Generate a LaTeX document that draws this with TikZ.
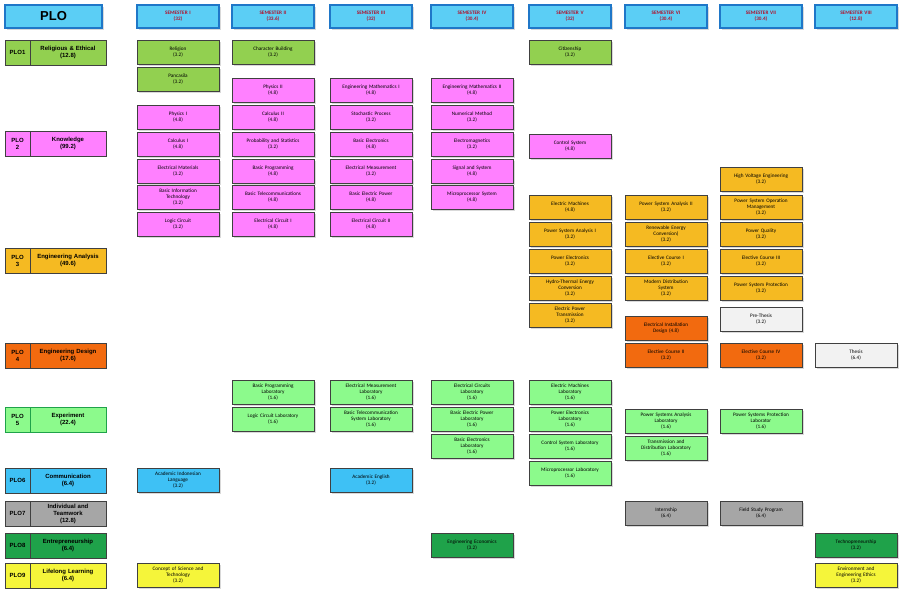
\documentclass[tikz,border=0pt]{standalone}
\usepackage{fontspec}
\setmainfont{Carlito}
\newfontfamily\arl{Liberation Sans}
\usetikzlibrary{shadows}
\definecolor{cgr}{HTML}{92D050}
\definecolor{cmg}{HTML}{FF80FF}
\definecolor{cgo}{HTML}{F5BA22}
\definecolor{cor}{HTML}{F26A0F}
\definecolor{cwh}{HTML}{F2F2F2}
\definecolor{clg}{HTML}{8CFA8C}
\definecolor{cbl}{HTML}{3EC1F5}
\definecolor{cgy}{HTML}{A6A6A6}
\definecolor{cdg}{HTML}{1FA24A}
\definecolor{cye}{HTML}{F5F53A}
\definecolor{hbl}{HTML}{5BCEF5}
\definecolor{hbd}{HTML}{1F77C8}
\definecolor{hrd}{HTML}{B0102B}
\tikzset{
 crs/.style={draw=black!75,line width=1pt,minimum width=82pt,minimum height=24pt,text width=80pt,align=center,inner sep=0pt,font=\fontsize{5.2}{6}\selectfont,drop shadow={shadow xshift=1.5pt,shadow yshift=-1.5pt,opacity=0.3}},
 hdr/.style={draw=hbd,line width=1.2pt,fill=hbl,minimum width=82pt,minimum height=23pt,text width=80pt,align=center,inner sep=0pt,font=\fontsize{5.2}{6}\selectfont\bfseries,text=hrd,drop shadow={shadow xshift=1.5pt,shadow yshift=-1.5pt,opacity=0.3}},
 ploa/.style={draw=black!75,line width=1pt,minimum width=25pt,minimum height=25pt,text width=24pt,align=center,inner sep=0pt,font=\fontsize{6}{7}\selectfont\arl\bfseries},
 plob/.style={draw=black!75,line width=1pt,minimum width=76pt,minimum height=25pt,text width=74pt,align=center,inner sep=0pt,font=\fontsize{6}{7}\selectfont\arl\bfseries},
}
\newcommand{\CR}[5]{\node[crs,fill=#4] (#1) at (#2,#3+12) {#5};}
\newcommand{\PLA}[5]{\node[ploa,fill=#3,#4] (#1a) at (17.5,#2+12.5) {#5};}
\newcommand{\PLB}[5]{\node[plob,fill=#3,#4] (#1b) at (68,#2+12.5) {#5};}
\begin{document}
\begin{tikzpicture}[x=1pt,y=-1pt]
\useasboundingbox (0,0) rectangle (906,600);
% headers
\node[hdr,minimum width=97pt,text width=95pt,text=black,font=\fontsize{13}{14}\selectfont\arl\bfseries] (plo) at (53.5,16.5) {PLO};
\node[hdr] (s1) at (178,16.5) {SEMESTER I\\(32)};
\node[hdr] (s2) at (273,16.5) {SEMESTER II\\(33.6)};
\node[hdr] (s3) at (371,16.5) {SEMESTER III\\(32)};
\node[hdr] (s4) at (472,16.5) {SEMESTER IV\\(30.4)};
\node[hdr] (s5) at (570,16.5) {SEMESTER V\\(32)};
\node[hdr] (s6) at (666,16.5) {SEMESTER VI\\(30.4)};
\node[hdr] (s7) at (761,16.5) {SEMESTER VII\\(30.4)};
\node[hdr] (s8) at (856,16.5) {SEMESTER VIII\\(12.8)};
% PLO column
\PLA{p1}{40}{cgr}{}{PLO1} \PLB{p1}{40}{cgr}{}{Religious \& Ethical\\(12.8)}
\PLA{p2}{131}{cmg}{}{PLO\\2} \PLB{p2}{131}{cmg}{}{Knowledge\\(99.2)}
\PLA{p3}{248}{cgo}{}{PLO\\3} \PLB{p3}{248}{cgo}{}{Engineering Analysis\\(49.6)}
\PLA{p4}{343}{cor}{}{PLO\\4} \PLB{p4}{343}{cor}{}{Engineering Design\\(17.6)}
\PLA{p5}{407}{clg}{draw=cdg}{PLO\\5} \PLB{p5}{407}{clg}{draw=cdg}{Experiment\\(22.4)}
\PLA{p6}{468}{cbl}{}{PLO6} \PLB{p6}{468}{cbl}{}{Communication\\(6.4)}
\PLA{p7}{501}{cgy}{}{PLO7} \PLB{p7}{501}{cgy}{}{Individual and\\Teamwork\\(12.8)}
\PLA{p8}{533}{cdg}{}{PLO8} \PLB{p8}{533}{cdg}{}{Entrepreneurship\\(6.4)}
\PLA{p9}{563}{cye}{}{PLO9} \PLB{p9}{563}{cye}{}{Lifelong Learning\\(6.4)}
% Semester I
\CR{rel}{178}{40}{cgr}{Religion\\(3.2)}
\CR{pan}{178}{67}{cgr}{Pancasila\\(3.2)}
\CR{phy1}{178}{105}{cmg}{Physics I\\(4.8)}
\CR{cal1}{178}{132}{cmg}{Calculus I\\(4.8)}
\CR{emat}{178}{159}{cmg}{Electrical Materials\\(3.2)}
\CR{bit}{178}{185}{cmg}{Basic Information\\Technology\\(3.2)}
\CR{lc}{178}{212}{cmg}{Logic Circuit\\(3.2)}
\CR{ail}{178}{468}{cbl}{Academic Indonesian\\Language\\(3.2)}
\CR{cst}{178}{563}{cye}{Concept of Science and\\Technology\\(3.2)}
% Semester II
\CR{cb}{273}{40}{cgr}{Character Building\\(3.2)}
\CR{phy2}{273}{78}{cmg}{Physics II\\(4.8)}
\CR{cal2}{273}{105}{cmg}{Calculus II\\(4.8)}
\CR{ps}{273}{132}{cmg}{Probability and Statistics\\(3.2)}
\CR{bp}{273}{159}{cmg}{Basic Programming\\(4.8)}
\CR{btc}{273}{185}{cmg}{Basic Telecommunications\\(4.8)}
\CR{ec1}{273}{212}{cmg}{Electrical Circuit I\\(4.8)}
\CR{bpl}{273}{380}{clg}{Basic Programming\\Laboratory\\(1.6)}
\CR{lcl}{273}{407}{clg}{Logic Circuit Laboratory\\(1.6)}
% Semester III
\CR{em1}{371}{78}{cmg}{Engineering Mathematics I\\(4.8)}
\CR{sp}{371}{105}{cmg}{Stochastic Process\\(3.2)}
\CR{be}{371}{132}{cmg}{Basic Electronics\\(4.8)}
\CR{emea}{371}{159}{cmg}{Electrical Measurement\\(3.2)}
\CR{bep}{371}{185}{cmg}{Basic Electric Power\\(4.8)}
\CR{ec2}{371}{212}{cmg}{Electrical Circuit II\\(4.8)}
\CR{eml}{371}{380}{clg}{Electrical Measurement\\Laboratory\\(1.6)}
\CR{btsl}{371}{407}{clg}{Basic Telecommunication\\System Laboratory\\(1.6)}
\CR{ae}{371}{468}{cbl}{Academic English\\(3.2)}
% Semester IV
\CR{em2}{472}{78}{cmg}{Engineering Mathematics II\\(4.8)}
\CR{nm}{472}{105}{cmg}{Numerical Method\\(3.2)}
\CR{emg}{472}{132}{cmg}{Electromagnetics\\(3.2)}
\CR{ss}{472}{159}{cmg}{Signal and System\\(4.8)}
\CR{mps}{472}{185}{cmg}{Microprocessor System\\(4.8)}
\CR{ecl}{472}{380}{clg}{Electrical Circuits\\Laboratory\\(1.6)}
\CR{bepl}{472}{407}{clg}{Basic Electric Power\\Laboratory\\(1.6)}
\CR{bel}{472}{434}{clg}{Basic Electronics\\Laboratory\\(1.6)}
\CR{eeco}{472}{533}{cdg}{Engineering Economics\\(3.2)}
% Semester V
\CR{cit}{570}{40}{cgr}{Citizenship\\(3.2)}
\CR{cs}{570}{134}{cmg}{Control System\\(4.8)}
\CR{emach}{570}{195}{cgo}{Electric Machines\\(4.8)}
\CR{psa1}{570}{222}{cgo}{Power System Analysis I\\(3.2)}
\CR{pe}{570}{249}{cgo}{Power Electronics\\(3.2)}
\CR{htec}{570}{276}{cgo}{Hydro-Thermal Energy\\Conversion\\(3.2)}
\CR{ept}{570}{303}{cgo}{Electric Power\\Transmission\\(3.2)}
\CR{emachl}{570}{380}{clg}{Electric Machines\\Laboratory\\(1.6)}
\CR{pel}{570}{407}{clg}{Power Electronics\\Laboratory\\(1.6)}
\CR{csl}{570}{434}{clg}{Control System Laboratory\\(1.6)}
\CR{mpl}{570}{461}{clg}{Microprocessor Laboratory\\(1.6)}
% Semester VI
\CR{psa2}{666}{195}{cgo}{Power System Analysis II\\(3.2)}
\CR{rec}{666}{222}{cgo}{Renewable Energy\\Conversion)\\(3.2)}
\CR{el1}{666}{249}{cgo}{Elective Course I\\(3.2)}
\CR{mds}{666}{276}{cgo}{Modern Distribution\\System\\(3.2)}
\CR{eid}{666}{316}{cor}{Electrical Installation\\Design (4.8)}
\CR{el2}{666}{343}{cor}{Elective Course II\\(3.2)}
\CR{psal}{666}{409}{clg}{Power Systems Analysis\\Laboratory\\(1.6)}
\CR{tdl}{666}{436}{clg}{Transmission and\\Distribution Laboratory\\(1.6)}
\CR{intern}{666}{501}{cgy}{Internship\\(6.4)}
% Semester VII
\CR{hve}{761}{167}{cgo}{High Voltage Engineering\\(3.2)}
\CR{psom}{761}{195}{cgo}{Power System Operation\\Management\\(3.2)}
\CR{pq}{761}{222}{cgo}{Power Quality\\(3.2)}
\CR{el3}{761}{249}{cgo}{Elective Course III\\(3.2)}
\CR{psp}{761}{276}{cgo}{Power System Protection\\(3.2)}
\CR{pth}{761}{307}{cwh}{Pre-Thesis\\(3.2)}
\CR{el4}{761}{343}{cor}{Elective Course IV\\(3.2)}
\CR{pspl}{761}{409}{clg}{Power Systems Protection\\Laborator\\(1.6)}
\CR{fsp}{761}{501}{cgy}{Field Study Program\\(6.4)}
% Semester VIII
\CR{th}{856}{343}{cwh}{Thesis\\(6.4)}
\CR{tp}{856}{533}{cdg}{Technopreneurship\\(3.2)}
\CR{eee}{856}{563}{cye}{Environment and\\Engineering Ethics\\(3.2)}
\end{tikzpicture}
\end{document}
